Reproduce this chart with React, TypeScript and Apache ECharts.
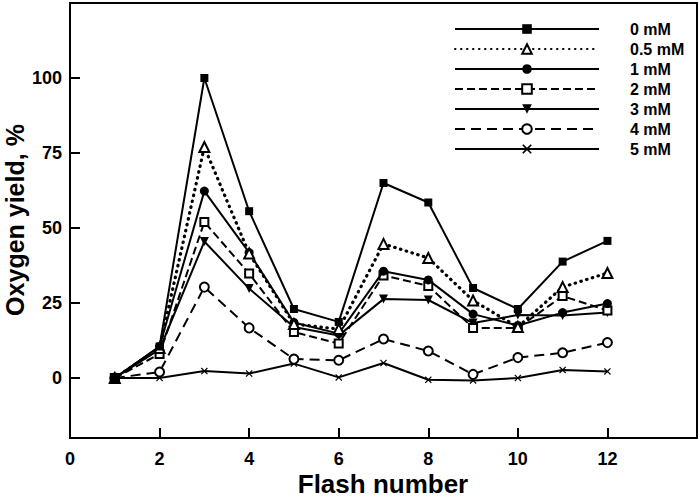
import React, { useEffect, useRef } from "react";
import * as echarts from "echarts";

const flashNumbers = [1, 2, 3, 4, 5, 6, 7, 8, 9, 10, 11, 12];
const seriesNames = ["0 mM", "0.5 mM", "1 mM", "2 mM", "3 mM", "4 mM", "5 mM"];
const yield0 = [0, 10.5, 100, 55.6, 23, 18.7, 65, 58.5, 30, 23, 38.8, 45.7];
const yield05 = [0, 10, 77, 41.5, 18, 16.3, 44.7, 40, 25.8, 17, 30.3, 35];
const yield1 = [0, 10.5, 62.3, 41.8, 18.5, 14.8, 35.6, 32.7, 21.3, 17.5, 21.8, 24.8];
const yield2 = [0, 8, 52, 34.8, 15.3, 11.5, 34.2, 30.7, 16.7, 16.7, 27.3, 22.5];
const yield3 = [0, 9.5, 45.5, 29.8, 17, 14.2, 26.3, 26, 18.3, 21, 20.8, 21.8];
const yield4 = [0, 2, 30.3, 16.7, 6.3, 5.9, 13, 9, 1.2, 6.8, 8.4, 11.8];
const yield5 = [0, 0, 2.3, 1.5, 4.8, 0.2, 5, -0.6, -0.8, 0, 2.7, 2.2];
const allYields = [yield0, yield05, yield1, yield2, yield3, yield4, yield5];
const xTickValues = [0, 2, 4, 6, 8, 10, 12];
const yTickValues = [0, 25, 50, 75, 100];

const FONT = '"Liberation Sans", Arial, sans-serif';
const CROSS =
  "path://M0,1.2L1.2,0L5,3.8L8.8,0L10,1.2L6.2,5L10,8.8L8.8,10L5,6.2L1.2,10L0,8.8L3.8,5Z";
const DOWN_TRI = "path://M0,0L10,0L5,9Z";

const seriesLooks = [
  { symbol: "rect", size: 8, empty: false, line: { type: "solid", width: 2 } },
  { symbol: "emptyTriangle", size: 10, empty: true, line: { type: [0.5, 5.5], width: 3.2, cap: "round" } },
  { symbol: "circle", size: 9, empty: false, line: { type: "solid", width: 2 } },
  { symbol: "emptyRect", size: 8, empty: true, line: { type: [8, 4], width: 2 } },
  { symbol: DOWN_TRI, size: 9, empty: false, line: { type: "solid", width: 2 } },
  { symbol: "emptyCircle", size: 9, empty: true, line: { type: [10, 6], width: 2 } },
  { symbol: CROSS, size: 7, empty: false, line: { type: "solid", width: 2 } },
];

export default function App() {
  const ref = useRef<HTMLDivElement>(null);
  useEffect(() => {
    if (!ref.current) return;
    const chart = echarts.init(ref.current, null, { renderer: "svg" });
    const series = seriesNames.map((name, k) => {
      const look = seriesLooks[k];
      return {
        name,
        type: "line",
        data: flashNumbers.map((f, i) => [f, allYields[k][i]]),
        symbol: look.symbol,
        symbolSize: look.size,
        showAllSymbol: true,
        lineStyle: { color: "#000", ...look.line },
        itemStyle: look.empty
          ? { color: "#000", borderColor: "#000", borderWidth: 1.5 }
          : { color: "#000", borderWidth: 0 },
        z: 10 - k,
      };
    });
    chart.setOption({
      animation: false,
      backgroundColor: "#fff",
      grid: {
        left: 70,
        right: 3,
        top: 3,
        bottom: 62,
        show: true,
        borderColor: "#000",
        borderWidth: 2,
        backgroundColor: "transparent",
      },
      legend: {
        orient: "vertical",
        left: 449,
        top: 15,
        itemWidth: 144,
        itemHeight: 12,
        itemGap: 2,
        data: seriesNames,
        textStyle: {
          fontFamily: FONT,
          fontWeight: "bold",
          fontSize: 16,
          lineHeight: 18,
          color: "#000",
          padding: [0, 0, 0, 26],
        },
      },
      xAxis: {
        type: "value",
        min: 0,
        max: 14,
        interval: 2,
        axisLine: { show: true, onZero: false, lineStyle: { color: "#000", width: 2 } },
        axisTick: {
          show: true,
          inside: true,
          length: 10,
          lineStyle: { color: "#000", width: 2 },
          customValues: xTickValues,
        },
        axisLabel: {
          customValues: xTickValues,
          margin: 12,
          fontFamily: FONT,
          fontWeight: "bold",
          fontSize: 18,
          color: "#000",
        },
        splitLine: { show: false },
      },
      yAxis: {
        type: "value",
        min: -20,
        max: 125,
        axisLine: { show: true, onZero: false, lineStyle: { color: "#000", width: 2 } },
        axisTick: {
          show: true,
          inside: true,
          length: 10,
          lineStyle: { color: "#000", width: 2 },
          customValues: yTickValues,
        },
        axisLabel: {
          customValues: yTickValues,
          margin: 8,
          fontFamily: FONT,
          fontWeight: "bold",
          fontSize: 18,
          color: "#000",
        },
        splitLine: { show: false },
      },
      graphic: [
        {
          type: "text",
          x: 383,
          y: 484,
          style: {
            text: "Flash number",
            font: `bold 26px ${FONT}`,
            fill: "#000",
            align: "center",
            verticalAlign: "middle",
          },
        },
        {
          type: "text",
          x: 15,
          y: 220,
          rotation: Math.PI / 2,
          style: {
            text: "Oxygen yield, %",
            font: `bold 25px ${FONT}`,
            fill: "#000",
            align: "center",
            verticalAlign: "middle",
          },
        },
      ],
      series,
    });
    return () => chart.dispose();
  }, []);
  return (
    <div
      ref={ref}
      style={{ position: "fixed", left: 0, top: 0, width: 700, height: 500, background: "#fff" }}
    />
  );
}
